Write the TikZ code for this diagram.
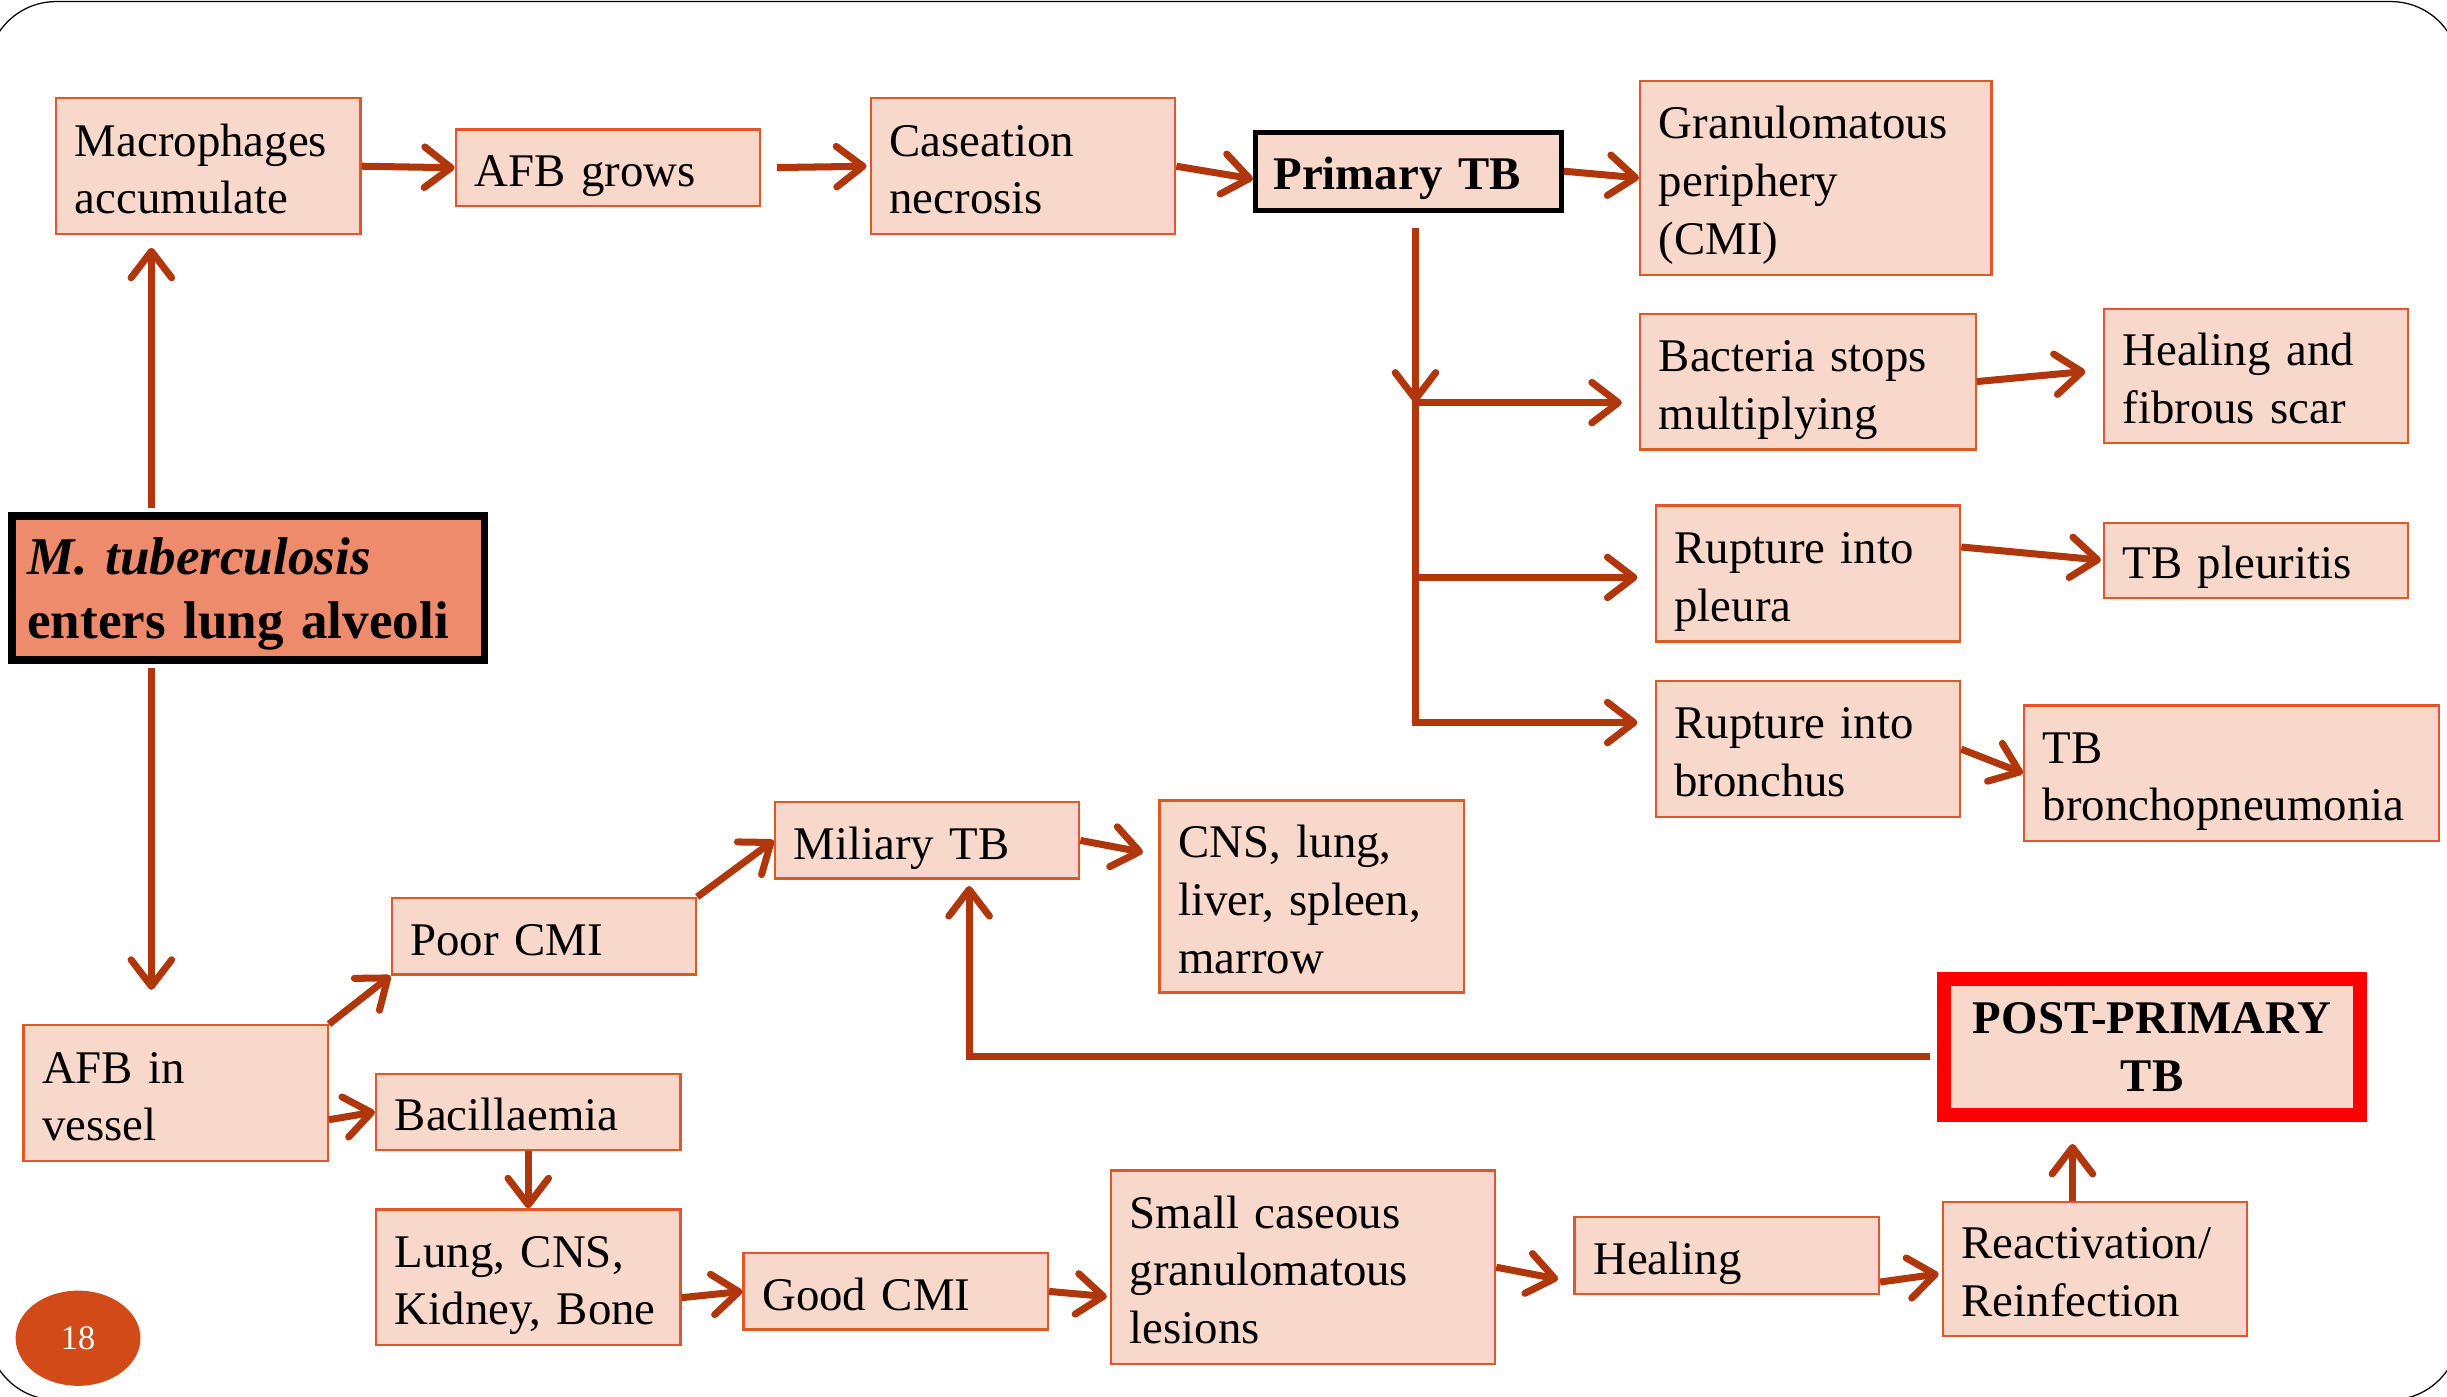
\documentclass[tikz,border=0pt]{standalone}
\usepackage{fontspec}
\setmainfont{Liberation Serif}
\usetikzlibrary{arrows.meta,shapes.geometric}
\definecolor{boxfill}{RGB}{248,216,203}
\definecolor{boxline}{RGB}{224,88,40}
\definecolor{arrowred}{RGB}{176,54,12}
\definecolor{tbsalmon}{RGB}{238,139,108}
\definecolor{pagered}{RGB}{210,74,24}
\tikzset{
	box/.style={rectangle, draw=boxline, fill=boxfill, line width=1.5pt, inner xsep=12pt, inner ysep=0pt, align=left, font=\fontsize{30}{37}\selectfont,
		execute at begin node={\rule{0pt}{32.5pt}}, execute at end node={\rule[-8.5pt]{0pt}{0pt}}},
	arr/.style={draw=arrowred, line width=4.5pt, -{Straight Barb[length=17pt,width=26pt,round]}},
	link/.style={draw=arrowred, line width=4.5pt, line cap=rect},
}

\begin{document}
\begin{tikzpicture}[x=1pt,y=-1pt]
		\useasboundingbox (0,0) rectangle (1568,895);
		\draw[line width=0.8pt, rounded corners=44pt] (-8,1) rectangle (1576,897);

		\node[box, text width=171pt, minimum height=87pt] (mac) at (133.5,106.5) {Macrophages\\accumulate};
		\node[box, text width=171pt, minimum height=49pt] (afbg) at (389.5,107.5) {AFB grows};
		\node[box, text width=171pt, minimum height=87pt] (cas) at (655.5,106.5) {Caseation\\necrosis};
		\node[box, draw=black, line width=3.2pt, inner xsep=11.5pt, text width=173pt, minimum height=50pt, font=\fontsize{30}{37}\selectfont\bfseries] (prim) at (902.5,109.7) {Primary TB};
		\node[box, text width=201pt, minimum height=124pt] (gran) at (1163.5,114) {Granulomatous\\periphery\\(CMI)};
		\node[box, text width=191pt, minimum height=87pt] (bact) at (1158.5,244.5) {Bacteria stops\\multiplying};
		\node[box, text width=171pt, minimum height=86pt] (heal1) at (1445.5,241) {Healing and\\fibrous scar};
		\node[box, text width=171pt, minimum height=87pt] (plr) at (1158.5,367.5) {Rupture into\\pleura};
		\node[box, text width=171pt, minimum height=48pt] (plrts) at (1445.5,359) {TB pleuritis};
		\node[box, text width=171pt, minimum height=87pt] (brn) at (1158.5,480) {Rupture into\\bronchus};
		\node[box, text width=242pt, minimum height=87pt] (brpn) at (1430,495.5) {TB\\bronchopneumonia};

		\node[box, draw=black, fill=tbsalmon, line width=5pt, inner xsep=10pt, text width=283pt, minimum height=92.5pt, font=\fontsize{34}{41}\selectfont\bfseries] (mtb) at (159,376.75) {\textit{M. tuberculosis}\\enters lung alveoli};

		\node[box, text width=171pt, minimum height=87pt] (afbv) at (112.5,700.5) {AFB in\\vessel};
		\node[box, text width=171pt, minimum height=49pt] (poor) at (348.5,600) {Poor CMI};
		\node[box, text width=171pt, minimum height=49pt] (mil) at (594,538.5) {Miliary TB};
		\node[box, text width=171pt, minimum height=123pt] (cns) at (840.5,574.5) {CNS, lung,\\liver, spleen,\\marrow};
		\node[box, text width=171pt, minimum height=49pt] (bac) at (338.5,712.5) {Bacillaemia};
		\node[box, text width=171pt, minimum height=87pt] (lck) at (338.5,818.5) {Lung, CNS,\\Kidney, Bone};
		\node[box, text width=171pt, minimum height=49pt] (good) at (574,827.5) {Good CMI};
		\node[box, text width=222pt, minimum height=124pt] (small) at (835,812) {Small caseous\\granulomatous\\lesions};
		\node[box, text width=171pt, minimum height=49pt] (heal2) at (1106.5,804.5) {Healing};
		\node[box, text width=171pt, minimum height=86pt] (react) at (1342.5,813) {Reactivation/\\Reinfection};
		\node[rectangle, draw=red, fill=boxfill, line width=9pt, inner sep=0pt, align=center, minimum width=267pt, minimum height=87pt, font=\fontsize{30}{37}\selectfont\bfseries] (post) at (1379,671) {POST-PRIMARY\\TB};

		\node[ellipse, fill=pagered, minimum width=80pt, minimum height=61pt, inner sep=0pt, text=white, font=\fontsize{22}{26}\selectfont] (pg) at (50,857.5) {18};

		\coordinate (mtbtop) at ([xshift=-62pt]mtb.north);
		\coordinate (mtbbot) at ([xshift=-62pt]mtb.south);
		\draw[arr, shorten <=2.5pt, shorten >=8pt] (mtbtop) -- (mtbtop |- mac.south);
		\draw[arr, shorten <=2.5pt, shorten >=22pt] (mtbbot) -- (mtbbot |- afbv.north);

		\draw[arr] (mac.east) -- (afbg.west);
		\draw[arr, shorten <=10pt, shorten >=2pt] (afbg.east) -- (cas.west);
		\draw[arr] (cas.east) -- ([yshift=-5pt]prim.west);
		\draw[arr] (prim.east) -- (gran.west);

		\coordinate (fork) at ([xshift=4.5pt]prim.south);
		\foreach \y/\t in {258/bact, 370/plr, 463/brn}{
			\coordinate (b\t) at (907,\y);
			\draw[arr, shorten >=11pt] (b\t) -- (b\t -| \t.west);
		}
		\draw[arr, shorten <=10pt] (fork) -- (bbact);
		\draw[link] (bbact) -- (bbrn);

		\draw[arr, shorten >=11pt] (bact.east) -- ([yshift=4pt]heal1.west);
		\draw[arr, shorten >=1pt] ([yshift=17pt]plr.east) -- (plrts.west);
		\draw[arr] (brn.east) -- (brpn.west);

		\draw[arr] (afbv.north east) -- (poor.south west);
		\draw[arr] (poor.north east) -- (mil.west);
		\draw[arr, shorten >=10pt] (mil.east) -- ([yshift=26.5pt]cns.west);
		\draw[arr] ([yshift=-17pt]afbv.east) -- (bac.west);
		\draw[arr] (bac.south) -- (lck.north);
		\draw[arr] ([yshift=-13pt]lck.east) -- (good.west);
		\draw[arr, shorten >=2pt] (good.east) -- ([yshift=-19pt]small.west);
		\draw[arr, shorten >=10pt] (small.east) -- ([yshift=-17pt]heal2.west);
		\draw[arr, shorten >=2pt] ([yshift=-17pt]heal2.east) -- ([yshift=-3pt]react.west);

		\coordinate (rtop) at ([xshift=-14.5pt]react.north);
		\draw[arr, shorten >=14pt] (rtop) -- (rtop |- post.south);
		\draw[arr, shorten <=4.5pt, shorten >=4pt] ([yshift=-6pt]post.west) -| ([xshift=27pt]mil.south);
\end{tikzpicture}
\end{document}
